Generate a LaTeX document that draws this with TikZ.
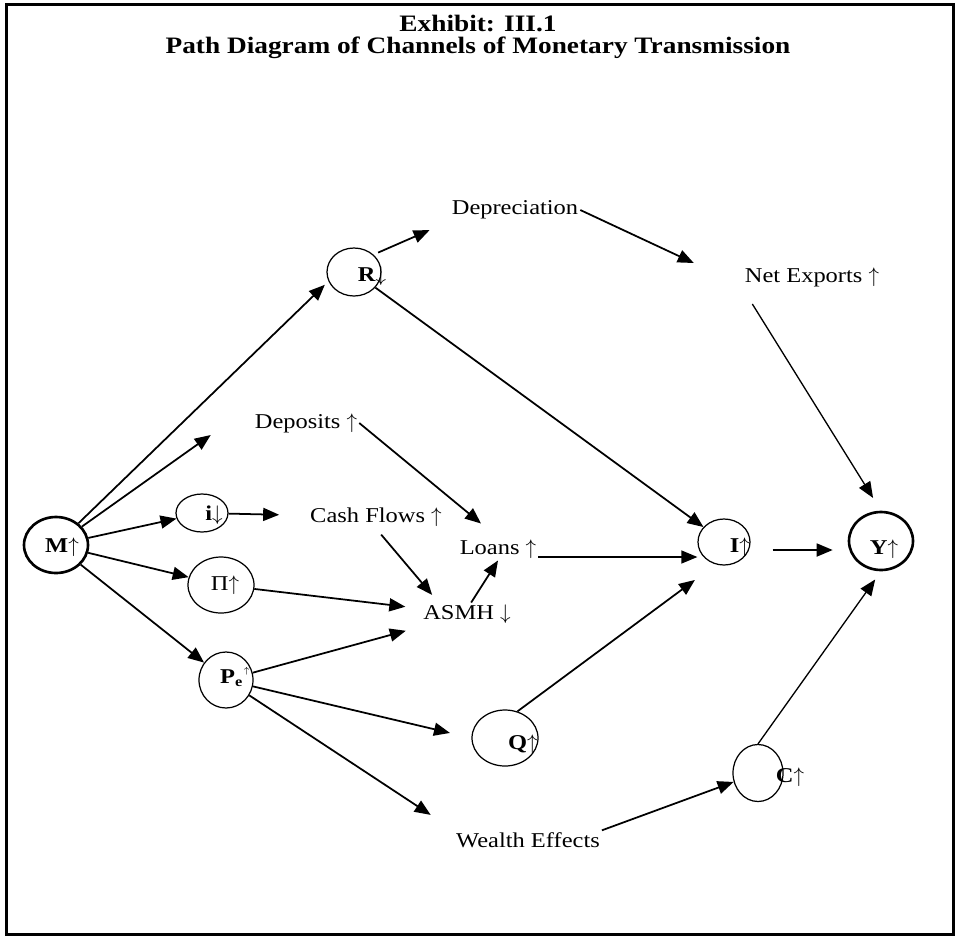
\documentclass[tikz,border=0pt]{standalone}
\usepackage{fontspec}
\setmainfont[FakeStretch=1.16]{Liberation Serif}
\usetikzlibrary{shapes,arrows.meta,positioning,calc}

\newcommand{\up}{\ensuremath{\uparrow}}
\newcommand{\dn}{\ensuremath{\downarrow}}

\begin{document}
\begin{tikzpicture}[
    x=0.2mm, y=-0.2mm,
    ring/.style={ellipse, draw, line width=0.7pt, inner sep=0pt},
    bigring/.style={ring, line width=1.5pt},
    lbl/.style={inner sep=1pt, font=\fontsize{12}{14}\selectfont},
    arrow/.style={-{Triangle[length=3.2mm,width=2.6mm]}, line width=1pt},
    thinarrow/.style={arrow, line width=0.75pt}
]
\useasboundingbox (0,0) rectangle (958,939);
\draw[line width=0.6mm] (6,4) rectangle (953,934);

% title
\node[align=center, font=\bfseries\fontsize{13.4}{12.5}\selectfont] (title) at (478,37)
    {Exhibit: III.1\\Path Diagram of Channels of Monetary Transmission};

% circles
\node[bigring, minimum width=12.8mm, minimum height=11.2mm] (M) at (56,545) {};
\node[ring, minimum width=10.8mm, minimum height=9.6mm] (R) at (354,272) {};
\node[ring, minimum width=10.4mm, minimum height=7.6mm] (i) at (202,513) {};
\node[ring, minimum width=13.2mm, minimum height=11.2mm] (Pi) at (221,585) {};
\node[ring, minimum width=10.8mm, minimum height=11.2mm] (Pe) at (226,680) {};
\node[ring, minimum width=13.2mm, minimum height=11.2mm] (Q) at (505,738) {};
\node[ring, minimum width=10.4mm, minimum height=9.2mm] (I) at (724,542) {};
\node[bigring, minimum width=12.8mm, minimum height=11.6mm] (Y) at (881,541) {};
\node[ring, minimum width=10mm, minimum height=11.4mm] (C) at (758,773) {};

% letters in the circles
\node[lbl] (Mt) at (62,547) {\textbf{M}\up};
\node[lbl] (Rt) at (372,276) {\textbf{R}\dn};
\node[lbl] (it) at (214,515) {\textbf{i}\dn};
\node[lbl] (Pit) at (225,585) {Π\up};
\node[lbl] (Pet) at (235,677) {\textbf{P\textsubscript{e}}\raisebox{1.1ex}{\tiny\up}};
\node[lbl] (Qt) at (523,744) {\textbf{Q}\up};
\node[lbl] (It) at (740,547) {\textbf{I}\up};
\node[lbl] (Yt) at (884,549) {\textbf{Y}\up};
\node[lbl] (Ct) at (790,777) {\textbf{C}\up};

% channel labels
\node[lbl] (depr) at (515,210) {Depreciation};
\node[lbl] (netx) at (812,277) {Net Exports \up};
\node[lbl] (deps) at (306,423) {Deposits \up};
\node[lbl] (cash) at (376,517) {Cash Flows \up};
\node[lbl] (loans) at (498,549) {Loans \up};
\node[lbl] (asmh) at (467,614) {ASMH \dn};
\node[lbl] (wealth) at (528,840) {Wealth Effects};

\coordinate (depsIn) at ($(deps.west)+(-42,12)$);
\coordinate (netIn) at ($(netx.west)+(-49,-14)$);

\draw[arrow, shorten >=1mm] (M) -- (R.200);
\draw[arrow] (M) -- (depsIn);
\draw[arrow] (M) -- (i);
\draw[arrow] (M) -- (Pi);
\draw[arrow] (M) -- (Pe);
\draw[arrow, shorten >=5.8mm] (i) -- (cash);
\draw[arrow, shorten >=3.2mm] (Pi) -- (asmh);
\draw[arrow, shorten >=4mm] (Pe) -- (asmh);
\draw[arrow, shorten >=4.4mm] (Pe) -- (Q.west);
\draw[arrow, shorten >=5.6mm] (Pe) -- (wealth.north west);
\draw[arrow, shorten >=4.4mm] (deps.east) -- (loans.north);
\draw[arrow, shorten <=1.6mm, shorten >=2mm] (cash.south) -- (asmh.158);
\draw[arrow] (asmh.70) -- (loans.south);
\draw[thinarrow] ([yshift=-1.6mm]loans.east) -- ([yshift=-1.6mm]loans.east -| I.west);
\draw[arrow] (R) -- (I);
\draw[arrow, shorten >=5.2mm] (Q.65) -- (I.250);
\draw[arrow, shorten <=1mm, shorten >=4.4mm] (R.north east) -- (depr.south west);
\draw[arrow] (depr.east) -- (netIn);
\draw[thinarrow, shorten <=3.6mm, shorten >=3mm] (netx.south west) -- (Y.north);
\draw[arrow, shorten <=4.4mm, shorten >=3mm] ([yshift=-1.6mm]I.east) -- ([yshift=-1.6mm]I.east -| Y.west);
\draw[thinarrow, shorten >=2mm] (C.north) -- (Y.south);
\draw[arrow] (wealth.north east) -- (C);
\end{tikzpicture}
\end{document}
